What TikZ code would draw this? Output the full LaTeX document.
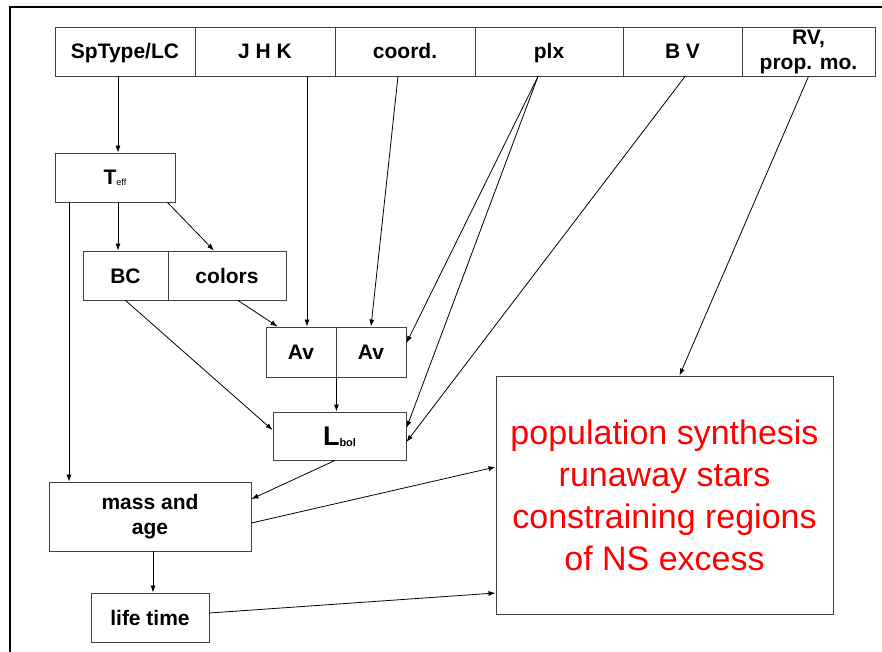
\documentclass[tikz,border=0pt]{standalone}
\usepackage{fontspec}
\setmainfont{Liberation Sans}
\usetikzlibrary{arrows.meta, positioning}

\tikzset{
    box/.style={draw=black!75, line width=0.9pt, inner sep=0pt, align=center,
        font=\fontsize{21}{25}\selectfont\bfseries},
    oneline/.style={text height=15pt, text depth=0pt},
    arr/.style={-{Latex[length=7pt,width=5pt]}, line width=0.8pt},
    ln/.style={line width=0.8pt}
}

\begin{document}
\begin{tikzpicture}[x=1pt, y=-1pt]
        \useasboundingbox (0,0) rectangle (882,652);
        % Frame
        \draw[line width=2.5pt] (882,7) -- (10,7) -- (10,652);

        % Catalogue data
        \foreach \n/\x/\w/\t in {sptype/125/140/{SpType/LC}, jhk/265/140/{J H K},
                coord/405/140/{coord.}, plx/549/148/{plx}, bv/682.5/119/{B V}} {
            \node[box, oneline, minimum width=\w pt, minimum height=49pt] (\n) at (\x,51.5) {\t};
        }
        \node[box, minimum width=133pt, minimum height=49pt] (rv) at (808.5,51.5) {RV,\\prop. mo.};

        % Derived quantities
        \node[box, oneline, minimum width=120pt, minimum height=49pt] (teff) at (115,177.5)
            {T\raisebox{-1pt}{\fontsize{9}{9}\selectfont\mdseries eff}};
        \node[box, oneline, minimum width=85pt, minimum height=49pt] (bc) at (125.5,275.5) {BC};
        \node[box, oneline, minimum width=118pt, minimum height=49pt] (colors) at (227,275.5) {colors};
        \node[box, oneline, minimum width=70pt, minimum height=50pt] (av1) at (301,352) {Av};
        \node[box, oneline, minimum width=70pt, minimum height=50pt] (av2) at (371,352) {Av};
        \node[box, text height=19pt, text depth=0pt, minimum width=133pt, minimum height=48pt] (lbol) at (339.5,436)
            {{\fontsize{27}{27}\selectfont L}\raisebox{-1pt}{\fontsize{11}{11}\selectfont bol}};
        \node[box, minimum width=202pt, minimum height=69pt] (mass) at (150,516.5) {mass and\\age};
        \node[box, oneline, minimum width=118pt, minimum height=49pt] (life) at (150,617.5) {life time};

        % Applications
        \node[box, minimum width=337pt, minimum height=238pt, text=red,
            font=\fontsize{34}{42}\selectfont] (pop) at (664.5,495)
            {population synthesis\\runaway stars\\constraining regions\\of NS excess};

        % Arrows
        \draw[arr] ([xshift=-7pt]sptype.south) -- ([xshift=3pt]teff.north);
        \draw[arr] ([xshift=3pt]teff.south) -- ([xshift=3pt]teff.south |- bc.north);
        \draw[arr] ([xshift=-8pt]teff.south east) -- ([xshift=-13pt]colors.north);
        \draw[arr] ([xshift=-46pt]teff.south) -- ([xshift=-46pt]teff.south |- mass.north);
        \draw[arr] ([xshift=42pt]jhk.south) -- ([xshift=42pt]jhk.south |- av1.north);
        \draw[arr] ([xshift=-7pt]coord.south) -- (av2.north);
        \draw[arr] ([xshift=-11pt]plx.south) -- ([yshift=9pt]av2.east);
        \draw[arr] ([xshift=-11pt]plx.south) -- ([yshift=8pt]lbol.east);
        \draw[arr] ([xshift=2.5pt]bv.south) -- ([yshift=-6pt]lbol.east);
        \draw[arr] ([xshift=11pt]colors.south) -- ([xshift=12pt]av1.north west);
        \draw[arr] (bc.south) -- ([yshift=6pt]lbol.west);
        \draw[arr] (av1.south east) -- (av1.south east |- lbol.north);
        \draw[arr] ([xshift=-4.5pt]lbol.south) -- ([yshift=17.5pt]mass.east);
        \draw[arr] ([yshift=-6.5pt]mass.east) -- ([yshift=28pt]pop.west);
        \draw[arr] ([xshift=3pt]mass.south) -- ([xshift=3pt]mass.south |- life.north);
        \draw[arr] ([yshift=4.5pt]life.east) -- ([yshift=-98pt]pop.west);
        \draw[arr] (rv.south) -- ([xshift=15pt]pop.north);
    \end{tikzpicture}
\end{document}
